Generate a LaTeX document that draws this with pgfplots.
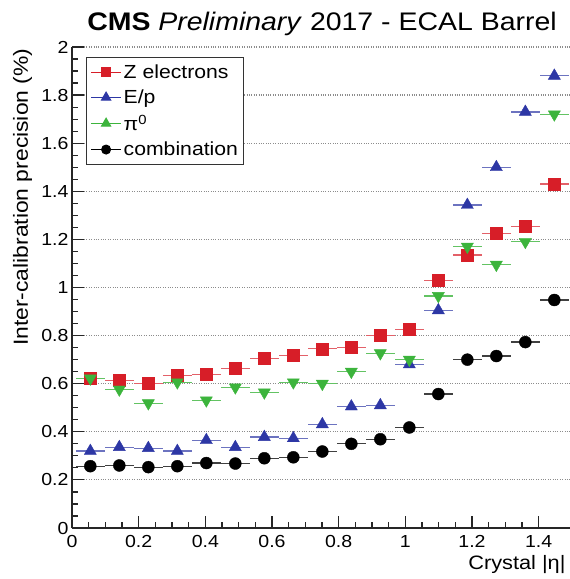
\documentclass[border=0pt]{standalone}
\usepackage{pgfplots}
\pgfplotsset{compat=1.18}
\usepackage{pgfplotstable}
\usepackage{fontspec}
\setmainfont{Liberation Sans}[FakeStretch=1.12]
\definecolor{zred}{RGB}{215,30,40}
\definecolor{epblue}{RGB}{45,55,165}
\definecolor{pigreen}{RGB}{60,180,60}

\pgfplotstableread{
x z ep pi comb
0.055 0.622 0.320 0.622 0.257
0.142 0.614 0.336 0.576 0.260
0.229 0.602 0.332 0.519 0.253
0.316 0.635 0.320 0.606 0.257
0.403 0.639 0.365 0.531 0.270
0.490 0.664 0.336 0.585 0.268
0.577 0.705 0.378 0.564 0.290
0.664 0.718 0.373 0.606 0.294
0.751 0.745 0.431 0.600 0.318
0.838 0.750 0.505 0.650 0.350
0.925 0.800 0.510 0.727 0.369
1.012 0.825 0.680 0.700 0.418
1.099 1.030 0.905 0.965 0.557
1.186 1.135 1.343 1.170 0.700
1.273 1.225 1.500 1.095 0.715
1.360 1.255 1.730 1.190 0.773
1.447 1.430 1.880 1.720 0.948
}\datatable

\begin{document}
\begin{tikzpicture}[x=1bp,y=1bp]
\begin{axis}[
  at={(0,0)}, anchor=south west,
  scale only axis, width=500bp, height=481bp,
  xmin=0, xmax=1.5, ymin=0, ymax=2,
  axis x line*=bottom, axis y line*=left,
  axis line style={line width=1.6pt, black!85},
  xtick={0,0.2,0.4,0.6,0.8,1,1.2,1.4},
  ytick={0,0.2,0.4,0.6,0.8,1,1.2,1.4,1.6,1.8,2},
  minor x tick num=3, minor y tick num=3,
  tick align=inside,
  major tick length=12bp, minor tick length=6bp,
  every tick/.style={black!85, line width=1.2pt},
  ymajorgrids, major grid style={black!45, dotted, line width=1.2pt},
  tick label style={font=\fontsize{17.5}{17.5}\selectfont},
  /pgf/number format/assume math mode=true,
  xticklabel style={yshift=-4bp},
  legend style={at={(axis description cs:0.028,0.979)}, anchor=north west,
    draw=black!80, line width=1pt, font=\fontsize{19}{19}\selectfont,
    inner xsep=4bp, inner ysep=5bp, row sep=6bp, cells={anchor=west}},
  legend image code/.code={%
    \draw[#1, line width=1.2pt] (0bp,0bp) -- (30bp,0bp);
    \draw[#1, mark options={scale=0.75}] plot coordinates {(15bp,0bp)};},
  clip=false,
]
\addplot[zred, mark=square*, mark size=6bp, only marks,
  error bars/.cd, x dir=both, x fixed=0.0435, error mark=none,
  error bar style={line width=1.2pt, zred!70}]
  table[x=x, y=z] {\datatable};
\addlegendentry{Z electrons}
\addplot[epblue, mark=triangle*, mark size=7bp, only marks,
  error bars/.cd, x dir=both, x fixed=0.0435, error mark=none,
  error bar style={line width=1.2pt, epblue!70}]
  table[x=x, y=ep] {\datatable};
\addlegendentry{E/p}
\addplot[pigreen, mark=triangle*, mark size=7bp, mark options={rotate=180}, only marks,
  error bars/.cd, x dir=both, x fixed=0.0435, error mark=none,
  error bar style={line width=1.2pt, pigreen!80}]
  table[x=x, y=pi] {\datatable};
\addlegendentry{π\textsuperscript{0}}
\addplot[black, mark=*, mark size=6bp, only marks,
  error bars/.cd, x dir=both, x fixed=0.0435, error mark=none,
  error bar style={line width=1.2pt, black!75}]
  table[x=x, y=comb] {\datatable};
\addlegendentry{combination}
\end{axis}
\node[anchor=base, font=\fontsize{25.5}{25.5}\selectfont] at (250,497)
  {\textbf{CMS} \textit{Preliminary} 2017 - ECAL Barrel};
\node[anchor=base east, font=\fontsize{19.5}{19.5}\selectfont] at (497,-41) {Crystal |η|};
\node[anchor=base east, rotate=90, font=\fontsize{20.5}{20.5}\selectfont] at (-44,483)
  {Inter-calibration precision (\%)};
\pgfresetboundingbox
\useasboundingbox (-72,-51) rectangle (498,528);
\end{tikzpicture}
\end{document}
